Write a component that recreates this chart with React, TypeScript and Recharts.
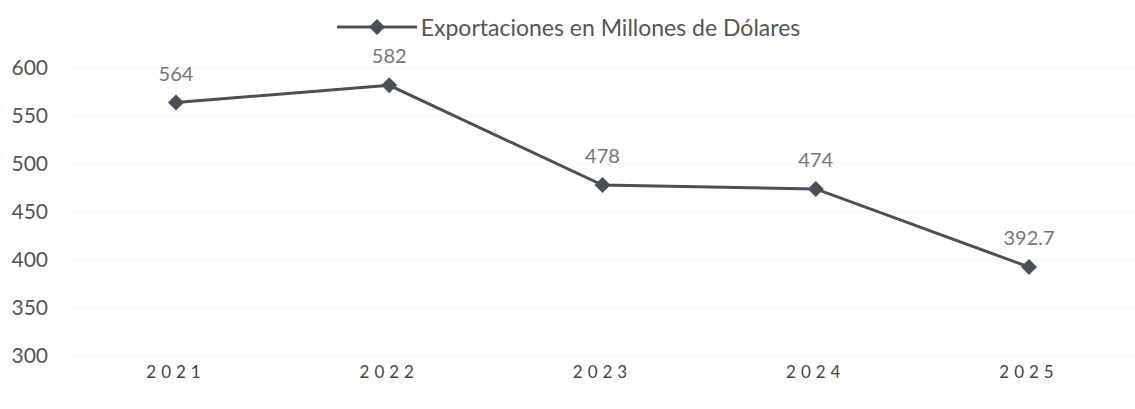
import React from 'react';
import { LineChart, Line, XAxis, YAxis, CartesianGrid, LabelList, Legend } from 'recharts';

const years = ['2021', '2022', '2023', '2024', '2025'];
const exportaciones = [564, 582, 478, 474, 392.7];
const yTicks = [300, 350, 400, 450, 500, 550, 600];
const seriesName = 'Exportaciones en Millones de Dólares';

const data = years.map((year, i) => ({ year, value: exportaciones[i] }));

const LINE_COLOR = '#4b5058';
const FONT = 'Lato, "Open Sans", sans-serif';

const Diamond = (props: any) => {
  const { cx, cy } = props;
  if (cx == null || cy == null) return null;
  const r = 8;
  return (
    <path
      d={`M${cx},${cy - r} L${cx + r},${cy} L${cx},${cy + r} L${cx - r},${cy} Z`}
      fill={LINE_COLOR}
    />
  );
};

const LegendContent = () => (
  <div
    style={{
      display: 'flex',
      alignItems: 'center',
      justifyContent: 'center',
      fontFamily: FONT,
      fontSize: 23,
      color: '#555',
      height: 24,
    }}
  >
    <svg width={84} height={16} style={{ marginRight: 2 }}>
      <line x1={2} y1={8} x2={82} y2={8} stroke={LINE_COLOR} strokeWidth={3} />
      <path d="M42,0 L50,8 L42,16 L34,8 Z" fill={LINE_COLOR} />
    </svg>
    <span>{seriesName}</span>
  </div>
);

export default function App() {
  return (
    <div style={{ position: 'absolute', left: 0, top: 0, background: '#fff' }}>
      <LineChart
        width={1135}
        height={409}
        data={data}
        margin={{ top: 44, right: 0, bottom: 23, left: 0 }}
      >
        <CartesianGrid vertical={false} stroke="#f3f3f3" />
        <Legend verticalAlign="top" content={<LegendContent />} wrapperStyle={{ top: 15, left: 0, width: 1135 }} />
        <XAxis
          dataKey="year"
          axisLine={false}
          tickLine={false}
          padding={{ left: 106, right: 106 }}
          tick={{ fill: '#444', fontSize: 17, fontFamily: FONT, letterSpacing: 5 }}
          dy={2}
        />
        <YAxis
          domain={[300, 600]}
          ticks={yTicks}
          width={70}
          axisLine={false}
          tickLine={false}
          tick={{ fill: '#555', fontSize: 21, fontFamily: FONT }}
          tickMargin={0}
          dx={-16}
          interval={0}
        />
        <Line
          type="linear"
          dataKey="value"
          name={seriesName}
          stroke={LINE_COLOR}
          strokeWidth={3}
          dot={<Diamond />}
          activeDot={false}
          isAnimationActive={false}
        >
          <LabelList
            dataKey="value"
            position="top"
            offset={22}
            fill="#777"
            fontSize={20}
            fontFamily={FONT}
          />
        </Line>
      </LineChart>
    </div>
  );
}
